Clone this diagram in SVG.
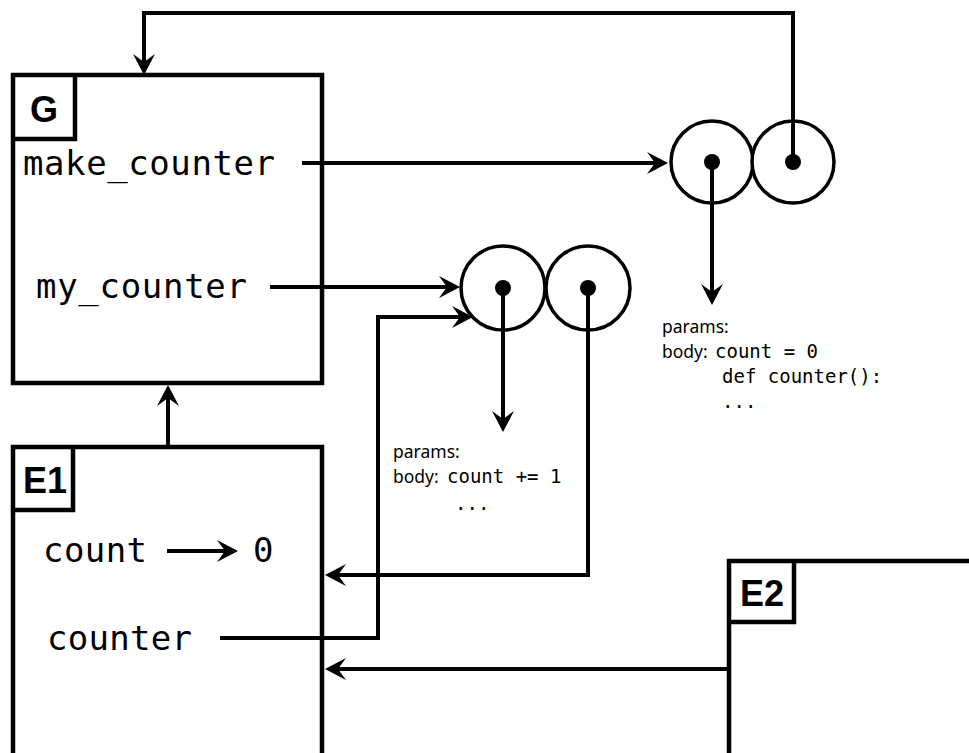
<svg xmlns="http://www.w3.org/2000/svg" width="969" height="753" viewBox="0 0 969 753">
<style>
.frame{fill:none;stroke:#000;stroke-width:4.5;stroke-linejoin:miter}
.conn{fill:none;stroke:#000;stroke-width:4;stroke-linejoin:miter}
.circ{fill:#fff;stroke:#000;stroke-width:3.5}
.dot{fill:#000}
.lbl{font-family:"Liberation Sans",Arial,sans-serif;font-weight:bold;font-size:36px;fill:#000}
.var{font-family:"DejaVu Sans Mono","Liberation Mono",monospace;font-size:34px;fill:#000}
.small{font-family:"Noto Sans","Open Sans",sans-serif;font-size:17.5px;fill:#000}
.code{font-family:"DejaVu Sans Mono","Liberation Mono",monospace;font-size:19px;fill:#000}
</style>
<defs>
<marker id="arr" markerUnits="userSpaceOnUse" viewBox="-24 -12 26 24" markerWidth="26" markerHeight="24" refX="-5" refY="0" orient="auto">
<path d="M0,0 L-21,-11 L-13,0 L-21,11 Z" fill="#000"/>
</marker>
</defs>
<rect width="969" height="753" fill="#fff"/>

<g id="G">
<rect class="frame" x="13" y="75" width="309" height="308"/>
<path class="frame" d="M13,139 H75 V75"/>
<text class="lbl" x="30" y="122">G</text>
<text class="var" x="23" y="175" textLength="252" lengthAdjust="spacing">make_counter</text>
<text class="var" x="36" y="298" textLength="211" lengthAdjust="spacing">my_counter</text>
</g>

<g id="E1">
<path class="frame" d="M13,760 V447 H322 V760"/>
<path class="frame" d="M13,510 H73 V447"/>
<text class="lbl" x="23" y="493">E1</text>
<text class="var" x="43" y="562" textLength="104" lengthAdjust="spacing">count</text>
<text class="var" x="253" y="562">0</text>
<text class="var" x="47" y="650" textLength="145" lengthAdjust="spacing">counter</text>
</g>

<g id="E2">
<path class="frame" d="M729,760 V561 H975"/>
<path class="frame" d="M729,622 H794 V561"/>
<text class="lbl" x="740" y="606">E2</text>
</g>

<g id="func_make_counter">
<circle class="circ" cx="712" cy="162" r="41"/>
<circle class="circ" cx="793" cy="162" r="41"/>
<circle class="dot" cx="712" cy="162" r="8"/>
<circle class="dot" cx="793" cy="162" r="8"/>
<text class="small" x="662" y="333">params:</text>
<text class="small" x="662" y="358">body:</text>
<text class="code" x="715" y="358">count = 0</text>
<text class="code" x="722" y="383">def counter():</text>
<text class="code" x="722" y="408">...</text>
</g>

<g id="func_counter">
<circle class="circ" cx="503" cy="288" r="42"/>
<circle class="circ" cx="588" cy="288" r="42"/>
<circle class="dot" cx="503" cy="288" r="8"/>
<circle class="dot" cx="588" cy="288" r="8"/>
<text class="small" x="393" y="458">params:</text>
<text class="small" x="393" y="483">body:</text>
<text class="code" x="447" y="483">count += 1</text>
<text class="code" x="455" y="510">...</text>
</g>

<g id="connectors">
<path class="conn" d="M793,162 V13 H144 V70" marker-end="url(#arr)"/>
<path class="conn" d="M302,163 H663" marker-end="url(#arr)"/>
<path class="conn" d="M270,287 H455" marker-end="url(#arr)"/>
<path class="conn" d="M220,638 H378 V317 H468" marker-end="url(#arr)"/>
<path class="conn" d="M712,162 V300" marker-end="url(#arr)"/>
<path class="conn" d="M503,288 V427" marker-end="url(#arr)"/>
<path class="conn" d="M588,288 V575 H330" marker-end="url(#arr)"/>
<path class="conn" d="M729,669 H330" marker-end="url(#arr)"/>
<path class="conn" d="M168,447 V390" marker-end="url(#arr)"/>
<path class="conn" d="M167,551 H233" marker-end="url(#arr)"/>
</g>
</svg>
